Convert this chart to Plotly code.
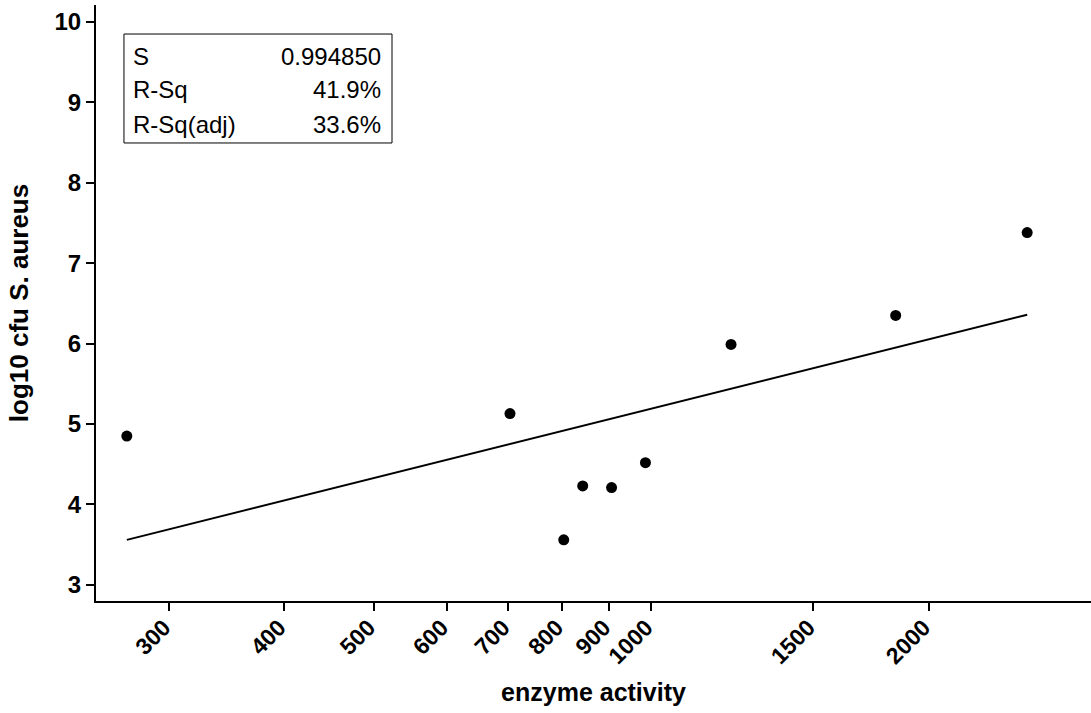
import numpy as np
import plotly.graph_objects as go

# data
enzyme = [270, 703, 804, 843, 906, 986, 1221, 1842, 2558]
log_cfu = [4.85, 5.13, 3.56, 4.23, 4.21, 4.52, 5.99, 6.35, 7.38]

fit_x = [270, 2558]
fit_y = [3.56, 6.36]

x_ticks = [300, 400, 500, 600, 700, 800, 900, 1000, 1500, 2000]
x_ticklabels = ["300", "400", "500", "600", "700", "800", "900", "1000", "1500", "2000"]
y_ticks = [3, 4, 5, 6, 7, 8, 9, 10]

stat_names = ["S", "R-Sq", "R-Sq(adj)"]
stat_values = ["0.994850", "41.9%", "33.6%"]

FONT = "Liberation Sans, Arial, sans-serif"

fig = go.Figure()
fig.add_trace(go.Scatter(x=fit_x, y=fit_y, mode="lines",
                         line=dict(color="black", width=2), showlegend=False))
fig.add_trace(go.Scatter(x=enzyme, y=log_cfu, mode="markers",
                         marker=dict(color="black", size=11), showlegend=False))

fig.update_layout(
    width=1091, height=713,
    margin=dict(l=96, r=0, t=5, b=112),
    plot_bgcolor="white", paper_bgcolor="white",
    font=dict(family=FONT, color="black"),
)
fig.update_xaxes(
    type="log", range=[np.log10(250), np.log10(3000)],
    tickvals=x_ticks, ticktext=x_ticklabels, tickangle=-45,
    tickfont=dict(size=23, weight="bold"),
    ticklabelstandoff=-6, ticklabelshift=-5,
    ticks="outside", ticklen=8, tickwidth=2, tickcolor="black",
    showline=True, linecolor="black", linewidth=2,
    showgrid=False, zeroline=False,
    title=dict(text="enzyme activity", font=dict(size=25, weight="bold"), standoff=16),
)
fig.update_yaxes(
    range=[2.8, 10.21], tickvals=y_ticks,
    tickfont=dict(size=24, weight="bold"),
    ticks="outside", ticklen=8, tickwidth=2, tickcolor="black",
    showline=True, linecolor="black", linewidth=2,
    showgrid=False, zeroline=False,
    title=dict(text="log10 cfu S. aureus", font=dict(size=26, weight="bold"), standoff=18),
)

# statistics box
fig.add_shape(type="rect", xref="paper", yref="paper",
              x0=0.0281, x1=0.2975, y0=0.7685, y1=0.9513,
              line=dict(color="black", width=1), fillcolor="white")
row_y = [0.9144, 0.8574, 0.8003]
for name, val, yy in zip(stat_names, stat_values, row_y):
    fig.add_annotation(xref="paper", yref="paper", x=0.0352, y=yy, text=name,
                       showarrow=False, xanchor="left", yanchor="middle",
                       font=dict(size=24))
    fig.add_annotation(xref="paper", yref="paper", x=0.2884, y=yy, text=val,
                       showarrow=False, xanchor="right", yanchor="middle",
                       font=dict(size=24))

fig.write_html("out.html")
